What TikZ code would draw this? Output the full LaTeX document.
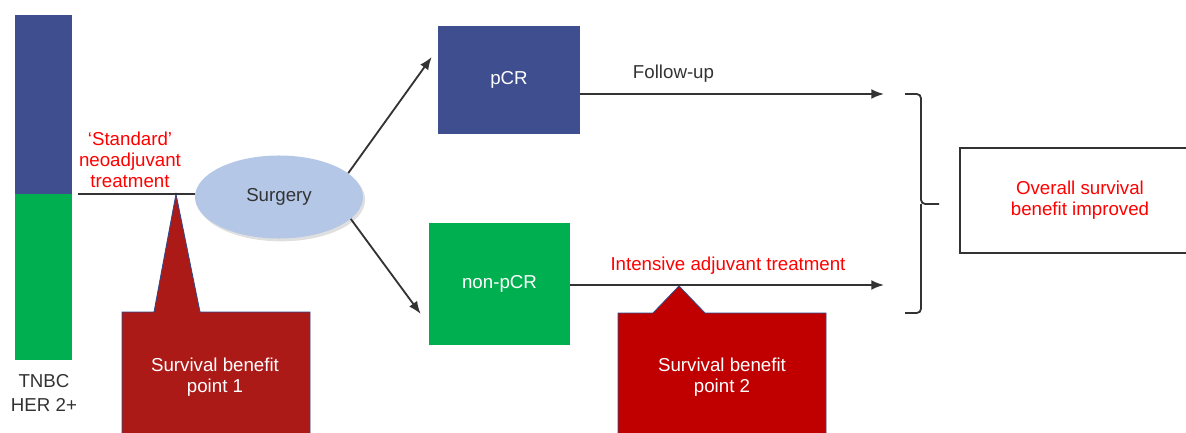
\documentclass[tikz,border=0pt]{standalone}
\usepackage{fontspec}
\setmainfont{Liberation Sans}
\usetikzlibrary{positioning,calc,shapes.geometric,arrows.meta,shadows}
\definecolor{navy}{HTML}{3F4E8E}
\definecolor{grass}{HTML}{00B050}
\definecolor{sky}{HTML}{B4C7E7}
\definecolor{wine}{HTML}{AC1A17}
\definecolor{crimson}{HTML}{C00000}
\definecolor{edge}{HTML}{2F4A8A}
\definecolor{ink}{HTML}{333333}
\definecolor{redtxt}{HTML}{FF0000}

\begin{document}
\begin{tikzpicture}[x=0.025cm, y=-0.025cm, font=\fontsize{13.3}{15}\selectfont,
  every node/.style={text=ink},
  ln/.style={ink, line width=1.3pt},
  flecha/.style={ln, -{Latex[length=9pt,width=7pt]}},
  callout/.style={draw=edge, line width=0.6pt},
  brc/.style={ink, line width=1.3pt, rounded corners=3pt}]
\useasboundingbox (0,0) rectangle (1186,433);

% ================= grupos de pacientes =================
\node[fill=navy, inner sep=0, minimum width=1.425cm, minimum height=4.475cm] (her) at (43.5,104.5) {};
\node[fill=grass, inner sep=0, minimum width=1.425cm, minimum height=4.15cm] (tnbc) at (43.5,277) {};
\node[align=center, font=\fontsize{13.3}{17.5}\selectfont] (grp) at (44,393) {TNBC\\HER 2+};

% ================= cirugia =================
\node[ellipse, fill=sky, minimum width=4.2cm, minimum height=2.075cm,
  drop shadow={opacity=0.25, shadow xshift=1.5pt, shadow yshift=-2pt}] (surg) at (279,197) {Surgery};

% callout 1 (bajo el tratamiento neoadyuvante)
\coordinate (tip1) at (176,194);
\fill[wine, callout] (122,312) -- (154,312) -- (tip1) -- (200,312) -- (310,312) -- (310,440) -- (122,440) -- cycle;
\node[text=white, align=center] (sb1) at (215,377) {Survival benefit\\point 1};

% neoadyuvante
\coordinate (st) at (78,194);
\draw[ln] (st) -- (st -| surg.west);
\node[text=redtxt, align=center] (neo) at (130,160) {‘Standard’\\neoadjuvant\\treatment};

% ================= respuesta =================
\node[fill=navy, text=white, minimum width=3.55cm, minimum height=2.7cm] (pcr) at (509,80) {pCR};
\node[fill=grass, text=white, minimum width=3.525cm, minimum height=3.05cm] (npcr) at (499.5,284) {non-pCR};
\draw[flecha] (surg.19) -- ($(pcr.west)+(-6,-23)$);
\draw[flecha] (surg.-17) -- ($(npcr.west)+(-8,30)$);

% callout 2 (bajo el adyuvante)
\coordinate (tip2) at (679,286);
\fill[crimson, callout] (618,313) -- (653,313) -- (tip2) -- (705,313) -- (826,313) -- (826,440) -- (618,440) -- cycle;
\node[text=white, align=center] (sb2) at (722,377) {Survival benefit\\point 2};

% seguimiento / adyuvante
\coordinate (fu) at (884,94);
\coordinate (ia) at (884,285);
\draw[flecha] (pcr.east |- fu) -- (fu);
\draw[flecha] (npcr.east |- ia) -- (ia);
\node[anchor=west] (fulbl) at (628,74) {Follow-up};
\node[text=redtxt] (ialbl) at (728,266) {Intensive adjuvant treatment};

% ================= resultado =================
\draw[brc] (905,94) -- (921,94) -- (921,204) -- (939,204);
\draw[brc] (905,313) -- (921,313) -- (921,204);
\node[draw=ink, line width=1.3pt, text=redtxt, align=center, minimum width=6cm, minimum height=2.625cm] (os) at (1080,200.5) {Overall survival\\benefit improved};

\end{tikzpicture}
\end{document}
